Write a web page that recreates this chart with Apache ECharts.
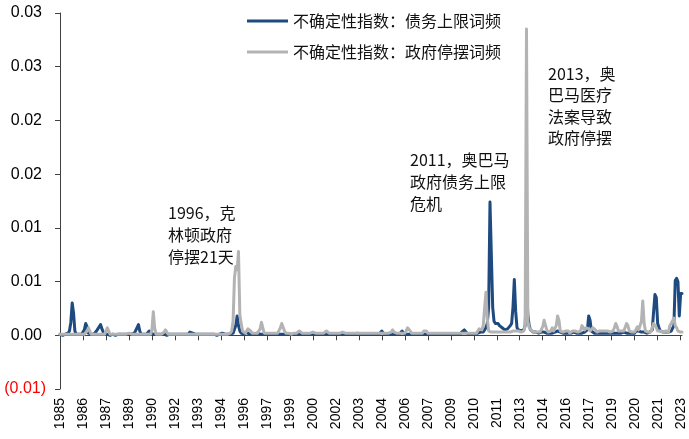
<!DOCTYPE html>
<html>
<head>
<meta charset="utf-8">
<title>不确定性指数：债务上限与政府停摆词频</title>
<script src="https://cdn.jsdelivr.net/npm/echarts@6/dist/echarts.min.js"></script>
<style>
  html, body { margin: 0; padding: 0; background: #ffffff; }
  #chart { width: 689px; height: 439px; }
</style>
</head>
<body>
<div id="chart"></div>
<script>
// Monthly observations, 1985-01 through 2023-05
const firstYear = 1985;
const lastYear = 2023;
const lastMonth = 5;
const months = [];
for (let y = firstYear; y <= lastYear; y++) {
  for (let m = 1; m <= 12; m++) {
    if (y === lastYear && m > lastMonth) break;
    months.push(y + '-' + String(m).padStart(2, '0'));
  }
}

const seriesNames = ['不确定性指数：债务上限词频', '不确定性指数：政府停摆词频'];

// Debt-ceiling term frequency, one row per year (Jan..Dec)
const debtCeiling = [
  0.0001,0.0001,0.0000,0.0001,0.0001,0.0001,0.0002,0.0004,0.0012,0.0030,0.0021,0.0004, // 1985
  0.0001,0.0001,0.0001,0.0001,0.0001,0.0001,0.0005,0.0011,0.0008,0.0002,0.0001,0.0001, // 1986
  0.0001,0.0001,0.0001,0.0004,0.0006,0.0008,0.0010,0.0006,0.0003,0.0001,0.0001,0.0001, // 1987
  0.0001,0.0000,0.0001,0.0001,0.0001,0.0000,0.0001,0.0001,0.0001,0.0001,0.0000,0.0001, // 1988
  0.0001,0.0001,0.0001,0.0001,0.0001,0.0001,0.0001,0.0002,0.0003,0.0007,0.0010,0.0004, // 1989
  0.0001,0.0001,0.0001,0.0001,0.0001,0.0002,0.0004,0.0002,0.0001,0.0001,0.0001,0.0001, // 1990
  0.0001,0.0001,0.0000,0.0001,0.0001,0.0001,0.0001,0.0000,0.0001,0.0001,0.0001,0.0001, // 1991
  0.0001,0.0001,0.0001,0.0001,0.0000,0.0001,0.0001,0.0001,0.0001,0.0001,0.0001,0.0001, // 1992
  0.0003,0.0003,0.0002,0.0001,0.0001,0.0001,0.0001,0.0001,0.0001,0.0001,0.0001,0.0001, // 1993
  0.0001,0.0001,0.0001,0.0000,0.0001,0.0001,0.0001,0.0001,0.0000,0.0001,0.0001,0.0001, // 1994
  0.0002,0.0002,0.0001,0.0001,0.0001,0.0001,0.0001,0.0001,0.0002,0.0003,0.0009,0.0018, // 1995
  0.0009,0.0004,0.0002,0.0001,0.0001,0.0002,0.0003,0.0002,0.0001,0.0001,0.0001,0.0001, // 1996
  0.0001,0.0001,0.0002,0.0001,0.0001,0.0001,0.0001,0.0001,0.0001,0.0001,0.0001,0.0001, // 1997
  0.0001,0.0001,0.0001,0.0001,0.0001,0.0001,0.0001,0.0001,0.0001,0.0002,0.0001,0.0001, // 1998
  0.0001,0.0001,0.0001,0.0001,0.0001,0.0001,0.0001,0.0001,0.0001,0.0001,0.0001,0.0001, // 1999
  0.0001,0.0001,0.0001,0.0001,0.0001,0.0001,0.0001,0.0001,0.0001,0.0001,0.0001,0.0001, // 2000
  0.0001,0.0001,0.0001,0.0001,0.0001,0.0001,0.0001,0.0001,0.0001,0.0001,0.0001,0.0001, // 2001
  0.0001,0.0001,0.0001,0.0001,0.0001,0.0002,0.0001,0.0001,0.0001,0.0001,0.0001,0.0001, // 2002
  0.0001,0.0001,0.0001,0.0001,0.0002,0.0001,0.0001,0.0001,0.0001,0.0001,0.0001,0.0001, // 2003
  0.0001,0.0001,0.0001,0.0001,0.0001,0.0001,0.0001,0.0001,0.0001,0.0002,0.0004,0.0002, // 2004
  0.0001,0.0001,0.0001,0.0001,0.0001,0.0001,0.0001,0.0001,0.0001,0.0001,0.0001,0.0001, // 2005
  0.0002,0.0004,0.0002,0.0001,0.0001,0.0001,0.0001,0.0001,0.0001,0.0001,0.0001,0.0001, // 2006
  0.0001,0.0001,0.0001,0.0001,0.0001,0.0001,0.0001,0.0001,0.0001,0.0001,0.0001,0.0001, // 2007
  0.0001,0.0001,0.0001,0.0001,0.0001,0.0001,0.0001,0.0001,0.0001,0.0001,0.0001,0.0001, // 2008
  0.0001,0.0001,0.0001,0.0001,0.0001,0.0001,0.0001,0.0001,0.0001,0.0003,0.0004,0.0005, // 2009
  0.0004,0.0002,0.0001,0.0001,0.0001,0.0001,0.0001,0.0001,0.0001,0.0002,0.0002,0.0003, // 2010
  0.0002,0.0003,0.0005,0.0007,0.0011,0.0026,0.0124,0.0125,0.0026,0.0013,0.0011,0.0011, // 2011
  0.0011,0.0009,0.0008,0.0007,0.0006,0.0005,0.0005,0.0006,0.0007,0.0009,0.0011,0.0026, // 2012
  0.0052,0.0022,0.0007,0.0005,0.0004,0.0004,0.0004,0.0005,0.0009,0.0044,0.0019,0.0009, // 2013
  0.0005,0.0004,0.0003,0.0003,0.0003,0.0003,0.0002,0.0002,0.0003,0.0003,0.0003,0.0003, // 2014
  0.0002,0.0002,0.0002,0.0002,0.0002,0.0002,0.0003,0.0004,0.0004,0.0004,0.0003,0.0002, // 2015
  0.0002,0.0002,0.0002,0.0003,0.0002,0.0002,0.0002,0.0002,0.0003,0.0002,0.0002,0.0002, // 2016
  0.0002,0.0002,0.0002,0.0002,0.0003,0.0004,0.0005,0.0018,0.0014,0.0004,0.0003,0.0002, // 2017
  0.0002,0.0002,0.0003,0.0002,0.0002,0.0002,0.0003,0.0002,0.0002,0.0002,0.0003,0.0002, // 2018
  0.0003,0.0002,0.0002,0.0002,0.0003,0.0002,0.0002,0.0002,0.0002,0.0003,0.0002,0.0002, // 2019
  0.0003,0.0002,0.0002,0.0002,0.0002,0.0002,0.0004,0.0004,0.0004,0.0003,0.0003,0.0003, // 2020
  0.0003,0.0002,0.0002,0.0002,0.0003,0.0004,0.0005,0.0022,0.0038,0.0035,0.0011,0.0007, // 2021
  0.0004,0.0004,0.0003,0.0003,0.0003,0.0003,0.0003,0.0003,0.0004,0.0005,0.0009,0.0051, // 2022
  0.0053,0.0050,0.0018,0.0039,0.0039                                                   // 2023
];

// Government-shutdown term frequency, one row per year (Jan..Dec)
const shutdown = [
  0.0001,0.0001,0.0001,0.0002,0.0001,0.0001,0.0001,0.0001,0.0001,0.0001,0.0001,0.0001, // 1985
  0.0001,0.0001,0.0001,0.0001,0.0001,0.0001,0.0001,0.0001,0.0004,0.0007,0.0004,0.0001, // 1986
  0.0001,0.0001,0.0001,0.0001,0.0001,0.0001,0.0001,0.0001,0.0001,0.0001,0.0004,0.0007, // 1987
  0.0004,0.0001,0.0001,0.0001,0.0001,0.0001,0.0001,0.0001,0.0001,0.0001,0.0001,0.0001, // 1988
  0.0001,0.0001,0.0001,0.0002,0.0001,0.0001,0.0001,0.0001,0.0001,0.0001,0.0001,0.0001, // 1989
  0.0001,0.0001,0.0001,0.0001,0.0001,0.0001,0.0001,0.0001,0.0005,0.0022,0.0007,0.0001, // 1990
  0.0001,0.0001,0.0001,0.0001,0.0001,0.0003,0.0005,0.0003,0.0001,0.0001,0.0001,0.0001, // 1991
  0.0001,0.0001,0.0001,0.0001,0.0001,0.0001,0.0001,0.0001,0.0001,0.0001,0.0001,0.0001, // 1992
  0.0001,0.0001,0.0001,0.0001,0.0001,0.0001,0.0001,0.0001,0.0001,0.0001,0.0001,0.0001, // 1993
  0.0001,0.0001,0.0001,0.0001,0.0001,0.0001,0.0001,0.0001,0.0001,0.0001,0.0001,0.0001, // 1994
  0.0001,0.0001,0.0001,0.0001,0.0001,0.0001,0.0002,0.0004,0.0013,0.0053,0.0064,0.0061, // 1995
  0.0078,0.0019,0.0011,0.0004,0.0003,0.0002,0.0004,0.0006,0.0006,0.0004,0.0002,0.0002, // 1996
  0.0002,0.0002,0.0002,0.0002,0.0006,0.0012,0.0007,0.0002,0.0002,0.0002,0.0002,0.0002, // 1997
  0.0002,0.0002,0.0002,0.0002,0.0002,0.0002,0.0003,0.0007,0.0011,0.0010,0.0004,0.0002, // 1998
  0.0002,0.0002,0.0001,0.0001,0.0002,0.0002,0.0002,0.0002,0.0003,0.0004,0.0003,0.0002, // 1999
  0.0002,0.0002,0.0002,0.0002,0.0002,0.0002,0.0003,0.0003,0.0002,0.0002,0.0002,0.0002, // 2000
  0.0002,0.0002,0.0002,0.0002,0.0003,0.0004,0.0003,0.0002,0.0002,0.0002,0.0002,0.0002, // 2001
  0.0002,0.0002,0.0002,0.0002,0.0003,0.0003,0.0002,0.0002,0.0002,0.0002,0.0002,0.0002, // 2002
  0.0002,0.0002,0.0002,0.0002,0.0003,0.0002,0.0002,0.0002,0.0002,0.0002,0.0002,0.0002, // 2003
  0.0002,0.0002,0.0002,0.0002,0.0002,0.0002,0.0002,0.0002,0.0002,0.0002,0.0002,0.0002, // 2004
  0.0002,0.0002,0.0002,0.0002,0.0002,0.0003,0.0005,0.0003,0.0002,0.0002,0.0002,0.0002, // 2005
  0.0002,0.0002,0.0002,0.0002,0.0004,0.0007,0.0008,0.0004,0.0002,0.0002,0.0002,0.0002, // 2006
  0.0002,0.0002,0.0002,0.0002,0.0002,0.0004,0.0004,0.0004,0.0002,0.0002,0.0002,0.0002, // 2007
  0.0002,0.0002,0.0002,0.0002,0.0002,0.0002,0.0002,0.0002,0.0002,0.0002,0.0002,0.0002, // 2008
  0.0002,0.0002,0.0002,0.0002,0.0002,0.0002,0.0002,0.0002,0.0002,0.0002,0.0002,0.0002, // 2009
  0.0002,0.0002,0.0002,0.0002,0.0002,0.0002,0.0002,0.0002,0.0002,0.0004,0.0006,0.0007, // 2010
  0.0005,0.0009,0.0025,0.0040,0.0016,0.0004,0.0004,0.0003,0.0003,0.0003,0.0003,0.0003, // 2011
  0.0003,0.0003,0.0003,0.0003,0.0004,0.0003,0.0003,0.0003,0.0003,0.0003,0.0003,0.0004, // 2012
  0.0004,0.0004,0.0005,0.0004,0.0003,0.0003,0.0004,0.0004,0.0009,0.0285,0.0013,0.0007, // 2013
  0.0007,0.0004,0.0004,0.0003,0.0004,0.0003,0.0003,0.0003,0.0004,0.0008,0.0014,0.0015, // 2014
  0.0005,0.0003,0.0003,0.0004,0.0007,0.0004,0.0003,0.0009,0.0018,0.0014,0.0004,0.0003, // 2015
  0.0003,0.0003,0.0004,0.0004,0.0004,0.0002,0.0003,0.0004,0.0003,0.0004,0.0004,0.0003, // 2016
  0.0003,0.0004,0.0009,0.0010,0.0005,0.0007,0.0006,0.0006,0.0004,0.0005,0.0007,0.0008, // 2017
  0.0005,0.0003,0.0004,0.0004,0.0004,0.0004,0.0003,0.0004,0.0004,0.0004,0.0003,0.0003, // 2018
  0.0003,0.0004,0.0007,0.0011,0.0008,0.0004,0.0003,0.0004,0.0004,0.0004,0.0005,0.0011, // 2019
  0.0009,0.0004,0.0003,0.0003,0.0004,0.0003,0.0004,0.0008,0.0005,0.0004,0.0013,0.0032, // 2020
  0.0011,0.0004,0.0003,0.0003,0.0003,0.0003,0.0004,0.0011,0.0012,0.0007,0.0004,0.0003, // 2021
  0.0004,0.0003,0.0003,0.0003,0.0004,0.0003,0.0003,0.0009,0.0011,0.0011,0.0016,0.0009, // 2022
  0.0007,0.0004,0.0004,0.0003,0.0003                                                   // 2023
];

// Value axis: -0.005 .. 0.030 in steps of 0.005, labels shown at two decimals
const yMin = -0.005;
const yMax = 0.03;
const yStep = 0.005;
const yTickLabels = ['(0.01)', '0.00', '0.01', '0.01', '0.02', '0.02', '0.03', '0.03'];

// Event notes
const noteTexts = [
  '1996，克\n林顿政府\n停摆21天',
  '2011，奥巴马\n政府债务上限\n危机',
  '2013，奥\n巴马医疗\n法案导致\n政府停摆'
];

const cjkFont = '"Noto Sans CJK SC", "Noto Sans", sans-serif';
const latinFont = '"Liberation Sans", Arial, sans-serif';
const blue = '#1f4a80';
const grey = '#b3b3b3';
const axisColor = '#404040';

const chart = echarts.init(document.getElementById('chart'), null, { renderer: 'canvas' });

chart.setOption({
  animation: false,
  backgroundColor: '#ffffff',
  grid: { left: 60, right: 7, top: 13, bottom: 50, containLabel: false },
  legend: {
    orient: 'vertical',
    left: 242,
    top: 8,
    itemWidth: 41,
    itemHeight: 3,
    itemGap: 15,
    icon: 'rect',
    data: seriesNames,
    textStyle: { fontFamily: cjkFont, fontSize: 16, color: '#111111' }
  },
  xAxis: [
    {
      // axis line and ticks running along the zero line
      type: 'category',
      data: months,
      boundaryGap: false,
      axisLine: { onZero: true, lineStyle: { color: axisColor, width: 1 } },
      axisTick: { show: true, interval: 16, length: 5, lineStyle: { color: axisColor } },
      axisLabel: { show: false, interval: 16 },
      splitLine: { show: false }
    },
    {
      // year labels along the bottom edge
      type: 'category',
      data: months,
      boundaryGap: false,
      position: 'bottom',
      axisLine: { show: false, onZero: false },
      axisTick: { show: false },
      axisLabel: {
        interval: 16,
        rotate: 90,
        margin: 9,
        fontFamily: latinFont,
        fontSize: 14,
        color: '#000000',
        formatter: v => v.slice(0, 4)
      },
      splitLine: { show: false }
    }
  ],
  yAxis: {
    type: 'value',
    min: yMin,
    max: yMax,
    interval: yStep,
    axisLine: { show: true, lineStyle: { color: axisColor, width: 1 } },
    axisTick: { show: true, length: 5, lineStyle: { color: axisColor } },
    splitLine: { show: false },
    axisLabel: {
      margin: 14,
      formatter: v => {
        const t = yTickLabels[Math.round((v - yMin) / yStep)];
        return v < 0 ? '{neg|' + t + '}' : '{pos|' + t + '}';
      },
      rich: {
        pos: { fontFamily: latinFont, fontSize: 16, color: '#000000', padding: [0, 4, 0, 0] },
        neg: { fontFamily: latinFont, fontSize: 16, color: '#ff0000' }
      }
    }
  },
  series: [
    {
      name: seriesNames[0],
      type: 'line',
      data: debtCeiling,
      xAxisIndex: 0,
      yAxisIndex: 0,
      symbol: 'none',
      showSymbol: false,
      itemStyle: { color: blue },
      lineStyle: { color: blue, width: 3, join: 'round', cap: 'round' }
    },
    {
      name: seriesNames[1],
      type: 'line',
      data: shutdown,
      xAxisIndex: 0,
      yAxisIndex: 0,
      symbol: 'none',
      showSymbol: false,
      itemStyle: { color: grey },
      lineStyle: { color: grey, width: 3, join: 'round', cap: 'round' }
    }
  ],
  graphic: [
    { type: 'text', left: 168, top: 202, style: { text: noteTexts[0], font: '16px ' + cjkFont, lineHeight: 22, fill: '#111111' } },
    { type: 'text', left: 410, top: 149, style: { text: noteTexts[1], font: '16px ' + cjkFont, lineHeight: 22, fill: '#111111' } },
    { type: 'text', left: 548, top: 63, style: { text: noteTexts[2], font: '16px ' + cjkFont, lineHeight: 21.5, fill: '#111111' } }
  ]
});
</script>
</body>
</html>
